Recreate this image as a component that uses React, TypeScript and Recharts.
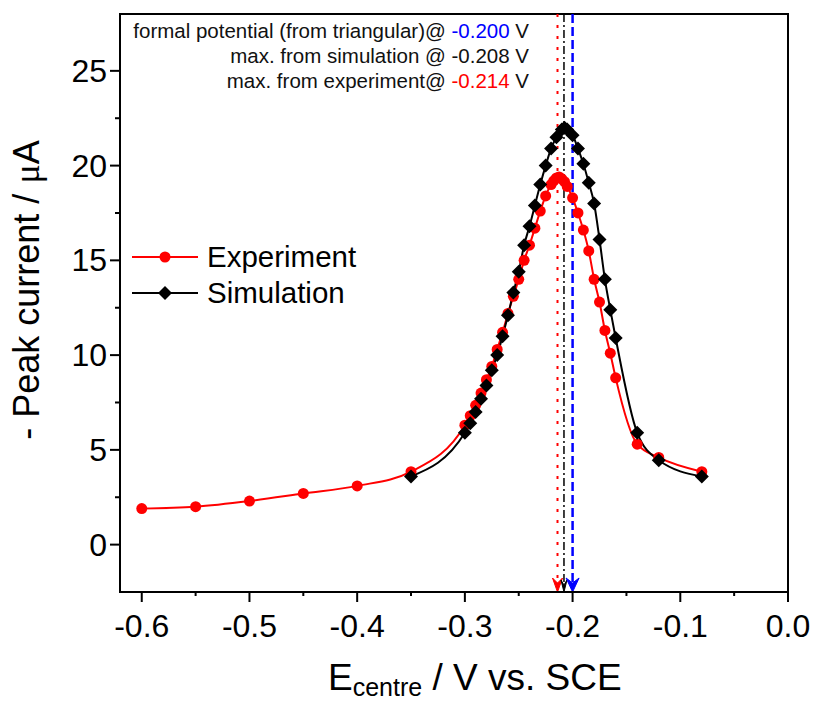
import React from 'react';
import { LineChart, Line, XAxis, YAxis, ReferenceLine, ReferenceArea } from 'recharts';

// experiment: E centre (V) vs -peak current (uA)
const expE = [-0.6, -0.55, -0.5, -0.45, -0.4, -0.35, -0.3, -0.295, -0.29, -0.285, -0.28, -0.275, -0.27, -0.265, -0.26, -0.255, -0.25, -0.245, -0.24, -0.235, -0.23, -0.225, -0.22, -0.2175, -0.215, -0.2125, -0.21, -0.2075, -0.205, -0.2, -0.195, -0.19, -0.185, -0.18, -0.175, -0.17, -0.165, -0.16, -0.14, -0.12, -0.08];
const expI = [1.9, 2.0, 2.3, 2.7, 3.1, 3.85, 6.3, 6.8, 7.35, 8.0, 8.7, 9.4, 10.3, 11.2, 12.2, 13.1, 14.0, 15.0, 15.8, 16.7, 17.6, 18.4, 19.0, 19.2, 19.35, 19.4, 19.3, 19.15, 18.9, 18.3, 17.5, 16.6, 15.5, 14.0, 12.8, 11.3, 10.1, 8.8, 5.3, 4.6, 3.85];

// simulation
const simE = [-0.35, -0.3, -0.295, -0.29, -0.285, -0.28, -0.275, -0.27, -0.265, -0.26, -0.255, -0.25, -0.245, -0.24, -0.235, -0.23, -0.225, -0.22, -0.215, -0.21, -0.2075, -0.205, -0.2, -0.195, -0.19, -0.185, -0.18, -0.175, -0.17, -0.165, -0.16, -0.14, -0.12, -0.08];
const simI = [3.6, 5.9, 6.4, 7.0, 7.7, 8.4, 9.2, 10.0, 11.0, 12.1, 13.3, 14.4, 15.8, 16.8, 17.9, 19.0, 20.0, 20.9, 21.5, 21.9, 22.0, 21.9, 21.6, 20.9, 20.1, 19.1, 18.0, 16.1, 14.0, 12.4, 10.9, 5.9, 4.45, 3.6];

const formalPotential = -0.2;
const simMax = -0.208;
const expMax = -0.214;

const xTicks = [-0.6, -0.55, -0.5, -0.45, -0.4, -0.35, -0.3, -0.25, -0.2, -0.15, -0.1, -0.05, 0];
const yTicks = [0, 2.5, 5, 7.5, 10, 12.5, 15, 17.5, 20, 22.5, 25];

const FONT = "'Liberation Sans', Arial, sans-serif";

const rowMap = new Map<number, any>();
expE.forEach((e, i) => {
  const r = rowMap.get(e) ?? { e };
  r.exp = expI[i];
  rowMap.set(e, r);
});
simE.forEach((e, i) => {
  const r = rowMap.get(e) ?? { e };
  r.sim = simI[i];
  rowMap.set(e, r);
});
const table = [...rowMap.values()].sort((a, b) => a.e - b.e);

const renderXTick = (p: any) => {
  const { x, y, payload } = p;
  const v = payload.value;
  const major = Math.abs(v * 10 - Math.round(v * 10)) < 1e-6;
  return (
    <g key={`xt-${v}`}>
      <line x1={x} y1={y} x2={x} y2={y + (major ? 10 : 4)} stroke="#000" strokeWidth={2} />
      {major && (
        <text x={x} y={y + 45} textAnchor="middle" fontSize={32} fontFamily={FONT} fill="#000">
          {v === 0 ? '0.0' : v.toFixed(1)}
        </text>
      )}
    </g>
  );
};

const renderYTick = (p: any) => {
  const { x, y, payload } = p;
  const v = payload.value;
  const major = v % 5 === 0;
  return (
    <g key={`yt-${v}`}>
      <line x1={x} y1={y} x2={x - (major ? 10 : 5)} y2={y} stroke="#000" strokeWidth={2} />
      {major && (
        <text x={x - 13} y={y + 11} textAnchor="end" fontSize={32} fontFamily={FONT} fill="#000">
          {v}
        </text>
      )}
    </g>
  );
};

const circleDot = (p: any) => {
  if (p.cy == null || p.value == null) return <g key={p.key} />;
  return <circle key={p.key} cx={p.cx} cy={p.cy} r={5.5} fill="#ff0000" />;
};

const diamondDot = (p: any) => {
  if (p.cy == null || p.value == null) return <g key={p.key} />;
  const { cx, cy } = p;
  const s = 7;
  return <path key={p.key} d={`M${cx},${cy - s} L${cx + s},${cy} L${cx},${cy + s} L${cx - s},${cy} Z`} fill="#000" />;
};

const arrowLine = (color: string, dash: string, w: number, hw: number, hh: number) => (p: any) => {
  const { x1, y1, y2 } = p;
  const top = Math.min(y1, y2);
  const bot = Math.max(y1, y2);
  return (
    <g>
      <line x1={x1} y1={top} x2={x1} y2={bot - hh + 4} stroke={color} strokeWidth={w} strokeDasharray={dash} />
      <path
        d={`M${x1 - hw},${bot - hh} L${x1},${bot - hh + 5} L${x1 + hw},${bot - hh} L${x1},${bot} Z`}
        fill={color}
        stroke={color}
        strokeWidth={1}
      />
    </g>
  );
};

export default function App() {
  return (
    <div style={{ position: 'absolute', left: 0, top: 0, width: 813, height: 704, background: '#fff' }}>
      <LineChart width={813} height={704} data={table} margin={{ top: 14, right: 25, bottom: 52, left: 60 }}>
        <XAxis
          dataKey="e"
          type="number"
          domain={[-0.6202, 0]}
          allowDataOverflow
          ticks={xTicks}
          interval={0}
          height={60}
          tickLine={false}
          tickSize={0}
          tickMargin={0}
          tick={renderXTick}
          axisLine={{ stroke: '#000', strokeWidth: 2 }}
        />
        <YAxis
          type="number"
          domain={[-2.5, 28]}
          allowDataOverflow
          ticks={yTicks}
          interval={0}
          width={60}
          tickLine={false}
          tickSize={0}
          tickMargin={0}
          tick={renderYTick}
          axisLine={{ stroke: '#000', strokeWidth: 2 }}
        />
        <ReferenceArea x1={-0.6202} x2={0} y1={-2.5} y2={28} fill="none" fillOpacity={0} stroke="#000" strokeWidth={2} />
        <Line
          dataKey="exp"
          type="monotone"
          stroke="#ff0000"
          strokeWidth={2}
          connectNulls
          dot={circleDot}
          activeDot={false}
          isAnimationActive={false}
        />
        <Line
          dataKey="sim"
          type="monotone"
          stroke="#000"
          strokeWidth={2}
          connectNulls
          dot={diamondDot}
          activeDot={false}
          isAnimationActive={false}
        />
        <ReferenceLine x={expMax} shape={arrowLine('#ff0000', '3 8', 2, 5, 14)} />
        <ReferenceLine x={simMax} shape={arrowLine('#000', '8 3 2 3', 1.5, 3, 12)} />
        <ReferenceLine x={formalPotential} shape={arrowLine('#0000ff', '9 4', 2.5, 6.5, 14)} />
      </LineChart>

      <svg width={813} height={704} style={{ position: 'absolute', left: 0, top: 0, pointerEvents: 'none' }}>
        <g fontFamily={FONT} fontSize={20.5} fill="#111" textAnchor="end">
          <text x={529} y={38}>
            formal potential (from triangular)@ <tspan fill="#0000ff">-0.200</tspan> V
          </text>
          <text x={529} y={63}>max. from simulation @ -0.208 V</text>
          <text x={529} y={88}>
            max. from experiment@ <tspan fill="#ff0000">-0.214</tspan> V
          </text>
        </g>

        <line x1={132} y1={257} x2={198} y2={257} stroke="#ff0000" strokeWidth={2} />
        <circle cx={165} cy={257} r={5.5} fill="#ff0000" />
        <text x={207} y={267} fontFamily={FONT} fontSize={29.5} fill="#000">Experiment</text>
        <line x1={132} y1={293} x2={198} y2={293} stroke="#000" strokeWidth={2} />
        <path d="M165,286 L172,293 L165,300 L158,293 Z" fill="#000" />
        <text x={207} y={303} fontFamily={FONT} fontSize={29.5} fill="#000">Simulation</text>

        <text x={328} y={690} fontFamily={FONT} fontSize={37} fill="#000">
          E<tspan fontSize={25} dy={6}>centre</tspan>
          <tspan dy={-6}> / V vs. SCE</tspan>
        </text>
        <text transform="translate(39,290) rotate(-90)" textAnchor="middle" fontFamily={FONT} fontSize={36} fill="#000">
          - Peak current / <tspan fontFamily="'Liberation Serif', serif">μ</tspan>A
        </text>
      </svg>
    </div>
  );
}
